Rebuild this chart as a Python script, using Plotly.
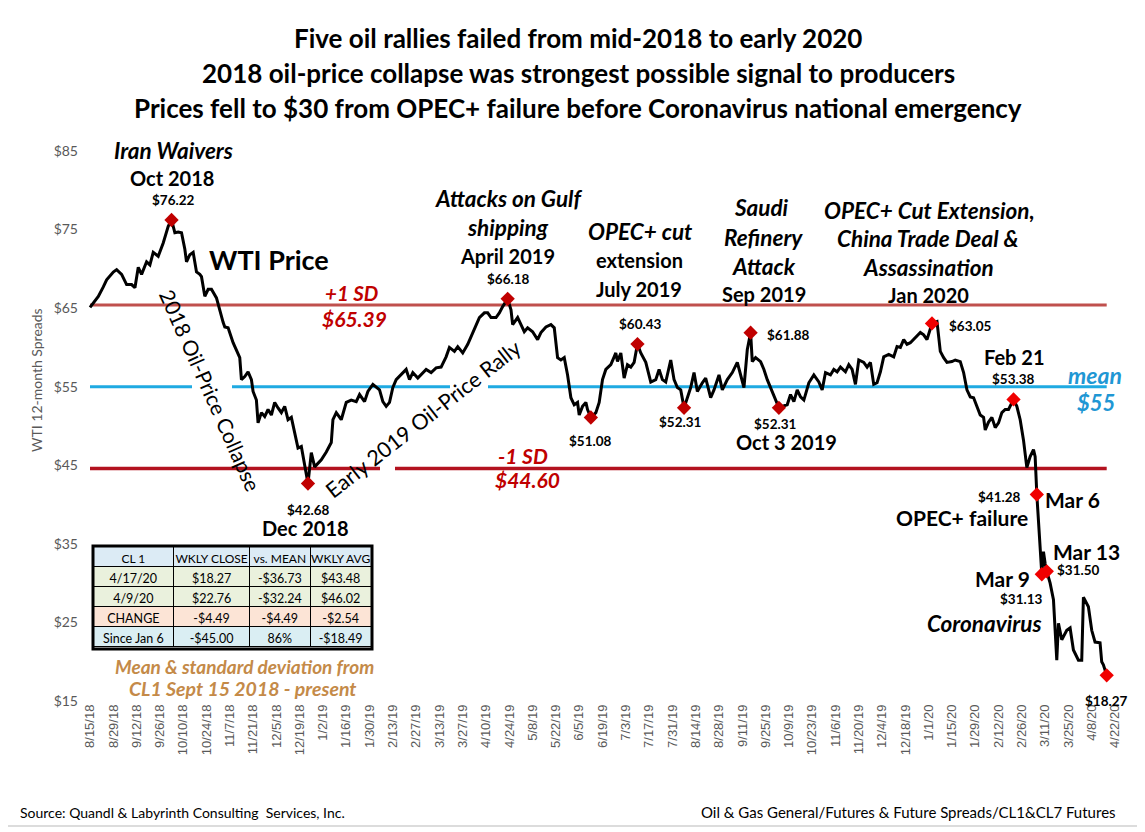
import plotly.graph_objects as go
import pandas as pd

# ---------------- data ----------------
price_dates = [
 "2018-08-15","2018-08-20","2018-08-23","2018-08-25","2018-08-29","2018-08-31","2018-09-03","2018-09-06","2018-09-09","2018-09-11",
 "2018-09-13","2018-09-15","2018-09-18","2018-09-20","2018-09-22","2018-09-25","2018-09-28","2018-10-01","2018-10-03","2018-10-05",
 "2018-10-07","2018-10-09","2018-10-11","2018-10-12","2018-10-14","2018-10-16","2018-10-18","2018-10-20","2018-10-21","2018-10-23",
 "2018-10-25","2018-10-27","2018-10-30","2018-11-01","2018-11-03","2018-11-04","2018-11-06","2018-11-09","2018-11-12","2018-11-13",
 "2018-11-14","2018-11-16","2018-11-18","2018-11-20","2018-11-21","2018-11-23","2018-11-24","2018-11-26","2018-11-28","2018-11-30",
 "2018-12-02","2018-12-04","2018-12-06","2018-12-08","2018-12-10","2018-12-12","2018-12-14","2018-12-16","2018-12-18","2018-12-20",
 "2018-12-22","2018-12-24","2018-12-26","2018-12-28",
 "2019-01-01","2019-01-04","2019-01-07","2019-01-08","2019-01-10","2019-01-13","2019-01-16","2019-01-19","2019-01-22","2019-01-24",
 "2019-01-27","2019-01-29","2019-02-01","2019-02-03","2019-02-05","2019-02-07","2019-02-09","2019-02-11","2019-02-13","2019-02-15",
 "2019-02-18","2019-02-21","2019-02-23","2019-02-25","2019-02-28","2019-03-02","2019-03-05","2019-03-08","2019-03-11","2019-03-14",
 "2019-03-17","2019-03-19","2019-03-22","2019-03-24","2019-03-27","2019-03-30","2019-04-01","2019-04-03","2019-04-06","2019-04-09",
 "2019-04-11","2019-04-13","2019-04-16","2019-04-18","2019-04-20","2019-04-23","2019-04-25","2019-04-26","2019-04-29","2019-05-01",
 "2019-05-03","2019-05-05","2019-05-08","2019-05-11","2019-05-13","2019-05-16","2019-05-19","2019-05-21","2019-05-23","2019-05-25",
 "2019-05-27","2019-05-29","2019-05-31","2019-06-02","2019-06-04","2019-06-05","2019-06-07","2019-06-09","2019-06-10","2019-06-12",
 "2019-06-15","2019-06-17","2019-06-19","2019-06-21","2019-06-24","2019-06-26","2019-06-27","2019-06-28","2019-06-30","2019-07-02",
 "2019-07-04","2019-07-06","2019-07-08","2019-07-10","2019-07-12","2019-07-15","2019-07-18","2019-07-21","2019-07-23","2019-07-25",
 "2019-07-27","2019-07-30","2019-08-01","2019-08-03","2019-08-05","2019-08-07","2019-08-09","2019-08-11","2019-08-13","2019-08-15",
 "2019-08-18","2019-08-20","2019-08-23","2019-08-25","2019-08-28","2019-08-30","2019-09-02","2019-09-05","2019-09-08","2019-09-10",
 "2019-09-12","2019-09-14","2019-09-16","2019-09-17","2019-09-19","2019-09-22","2019-09-24","2019-09-26","2019-09-29","2019-10-03",
 "2019-10-05","2019-10-08","2019-10-10","2019-10-12","2019-10-14","2019-10-16","2019-10-18","2019-10-21","2019-10-24","2019-10-27",
 "2019-10-29","2019-10-31","2019-11-03","2019-11-05","2019-11-07","2019-11-09","2019-11-12","2019-11-14","2019-11-16","2019-11-18",
 "2019-11-20","2019-11-23","2019-11-25","2019-11-27","2019-11-29","2019-12-01","2019-12-03","2019-12-05","2019-12-08","2019-12-11",
 "2019-12-13","2019-12-15","2019-12-17","2019-12-19","2019-12-21","2019-12-24","2019-12-27","2019-12-29","2019-12-31",
 "2020-01-03","2020-01-06","2020-01-07","2020-01-08","2020-01-10","2020-01-12","2020-01-15","2020-01-17","2020-01-20","2020-01-22",
 "2020-01-24","2020-01-26","2020-01-28","2020-01-30","2020-02-01","2020-02-03","2020-02-04","2020-02-06","2020-02-08","2020-02-10",
 "2020-02-12","2020-02-14","2020-02-16","2020-02-18","2020-02-21","2020-02-23","2020-02-25","2020-02-27","2020-02-29","2020-03-02",
 "2020-03-04","2020-03-05","2020-03-06","2020-03-09","2020-03-10","2020-03-11","2020-03-12","2020-03-14","2020-03-16","2020-03-18",
 "2020-03-19","2020-03-21","2020-03-24","2020-03-26","2020-03-28","2020-03-31","2020-04-02","2020-04-03","2020-04-06","2020-04-08",
 "2020-04-10","2020-04-13","2020-04-14","2020-04-15","2020-04-17",
]
price_values = [
 65.1,66.5,67.7,68.6,69.6,69.9,69.3,68.0,68.0,67.6,
 70.2,69.3,70.9,70.5,72.1,71.6,73.3,75.4,76.22,74.6,
 74.7,74.6,72.5,70.9,71.8,72.1,69.6,69.3,69.0,66.5,
 67.4,67.4,66.3,64.6,63.2,62.6,62.5,60.6,59.3,58.7,
 55.9,56.3,56.9,55.9,54.4,53.3,50.4,51.7,51.2,52.1,
 51.4,53.0,52.3,51.7,52.5,50.8,51.1,49.1,47.2,47.4,
 44.8,42.68,46.6,44.8,
 45.7,46.7,47.9,50.8,51.7,50.8,53.0,53.3,53.1,54.0,
 53.1,54.4,55.3,54.9,54.6,53.1,52.5,53.0,54.9,55.9,
 56.5,57.2,55.9,56.8,56.1,56.5,57.2,56.8,57.4,57.5,
 58.8,60.0,59.5,60.1,59.3,60.4,61.4,62.5,63.8,64.4,
 64.4,63.8,63.8,64.4,65.2,66.18,64.8,62.9,63.8,62.9,
 62.0,62.5,62.0,61.0,61.9,62.6,62.9,62.5,58.7,58.4,
 58.7,56.5,53.6,52.7,53.0,51.4,52.5,53.0,52.1,51.08,
 51.7,53.0,55.9,57.2,57.8,58.8,59.3,58.2,59.3,56.1,
 57.8,57.5,58.1,60.43,59.3,58.1,55.6,55.9,57.2,55.9,
 55.6,58.4,55.9,54.9,54.6,52.31,53.7,54.9,56.8,54.4,
 55.5,56.1,53.6,54.6,56.5,54.6,55.9,56.8,58.1,56.3,
 54.9,59.7,61.88,58.2,58.7,58.2,57.2,55.9,54.4,52.31,
 52.5,52.7,54.0,53.1,54.6,53.7,53.3,55.5,56.5,55.6,
 54.6,56.8,56.5,57.2,56.9,57.5,56.9,57.8,57.2,55.3,
 58.4,58.1,57.5,58.1,55.3,55.5,56.9,58.8,59.1,58.8,
 60.1,60.0,61.0,60.4,60.6,61.2,61.9,61.6,61.0,
 63.05,63.3,61.4,59.5,58.7,58.1,58.2,58.4,58.2,56.8,
 54.6,53.7,53.6,52.5,51.4,51.1,49.5,50.5,51.1,49.8,
 50.4,51.7,52.1,52.1,53.38,52.5,50.8,48.2,44.7,46.1,
 47.0,46.1,41.28,31.13,34.0,32.5,31.50,30.0,27.9,20.2,
 24.9,22.8,24.0,24.3,21.5,20.2,20.2,28.2,27.0,24.0,
 22.5,22.4,20.0,19.6,18.27,
]

marker_dates = ["2018-10-03","2018-12-24","2019-04-23","2019-06-12","2019-07-10","2019-08-07","2019-09-16","2019-10-03",
                "2020-01-03","2020-02-21","2020-03-06","2020-03-09","2020-03-12","2020-04-17"]
marker_values = [76.22,42.68,66.18,51.08,60.43,52.31,61.88,52.31,63.05,53.38,41.28,31.13,31.50,18.27]

plus_sd = 65.39
mean_val = 55.0
minus_sd = 44.60
band_dates = ["2018-08-15", "2020-04-17"]

x_tick_labels = ["8/15/18","8/29/18","9/12/18","9/26/18","10/10/18","10/24/18","11/7/18","11/21/18","12/5/18","12/19/18",
 "1/2/19","1/16/19","1/30/19","2/13/19","2/27/19","3/13/19","3/27/19","4/10/19","4/24/19","5/8/19","5/22/19","6/5/19",
 "6/19/19","7/3/19","7/17/19","7/31/19","8/14/19","8/28/19","9/11/19","9/25/19","10/9/19","10/23/19","11/6/19","11/20/19",
 "12/4/19","12/18/19","1/1/20","1/15/20","1/29/20","2/12/20","2/26/20","3/11/20","3/25/20","4/8/20","4/22/20"]
y_tick_values = [15, 25, 35, 45, 55, 65, 75, 85]
y_tick_labels = ["$15","$25","$35","$45","$55","$65","$75","$85"]

tbl_header = ["CL 1", "WKLY CLOSE", "vs. MEAN", "WKLY AVG"]
tbl_label = ["4/17/20", "4/9/20", "CHANGE", "Since Jan 6"]
tbl_close = ["$18.27", "$22.76", "-$4.49", "-$45.00"]
tbl_vs_mean = ["-$36.73", "-$32.24", "-$4.49", "86%"]
tbl_avg = ["$43.48", "$46.02", "-$2.54", "-$18.49"]

# ---------------- layout helpers (page pixel coords) ----------------
PAGE_W, PAGE_H = 1145, 832
OFF = 8                      # default body margin of the html page
L, R, T, B = 85, 1135, 151, 701
def px(x): return (x - L) / (R - L)
def py(y): return (B - y) / (B - T)

FONT = "Lato"
fig = go.Figure()

fig.add_trace(go.Scatter(x=band_dates, y=[plus_sd, plus_sd], mode="lines",
                         line=dict(color="#C0504D", width=3), hoverinfo="skip"))
fig.add_trace(go.Scatter(x=band_dates, y=[mean_val, mean_val], mode="lines",
                         line=dict(color="#1FAAE2", width=3), hoverinfo="skip"))
fig.add_trace(go.Scatter(x=band_dates, y=[minus_sd, minus_sd], mode="lines",
                         line=dict(color="#B3121F", width=3.5), hoverinfo="skip"))
fig.add_trace(go.Scatter(x=price_dates, y=price_values, mode="lines",
                         line=dict(color="black", width=3)))
fig.add_trace(go.Scatter(x=marker_dates[:8], y=marker_values[:8], mode="markers",
                         marker=dict(symbol="diamond", size=11, color="#C00000")))
fig.add_trace(go.Scatter(x=marker_dates[8:], y=marker_values[8:], mode="markers",
                         marker=dict(symbol="diamond", size=11, color="#F00000")))

nb = lambda lst: [s.replace(" ", "\u00a0") for s in lst]
row_fills = ["#EAF1DD", "#EAF1DD", "#FCE4D6", "#DAEEF3"]
fig.add_trace(go.Table(
    domain=dict(x=[px(93), px(372)], y=[py(649), py(546)]),
    columnwidth=[81, 76, 61, 61],
    header=dict(values=nb(tbl_header), fill_color="#DCEBF5", line=dict(color="black", width=1),
                font=dict(family=FONT, size=12, color="black"), align="center", height=20),
    cells=dict(values=[nb(tbl_label), nb(tbl_close), nb(tbl_vs_mean), nb(tbl_avg)],
               fill_color=[row_fills] * 4, line=dict(color="black", width=1),
               font=dict(family=FONT, size=12.5, color="black"), align="center", height=20),
))

ann = []
def lab(text, x, y, size, color="black", angle=0, xanchor="center", family=FONT):
    ann.append(dict(text=text, x=px(x), y=py(y), xref="paper", yref="paper", showarrow=False,
                    font=dict(family=family, size=size, color=color), textangle=angle,
                    xanchor=xanchor, yanchor="middle"))

# title
lab("<b>Five oil rallies failed from mid-2018 to early 2020</b>", 578, 38, 26)
lab("<b>2018 oil-price collapse was strongest possible signal to producers</b>", 578, 73, 26)
lab("<b>Prices fell to $30 from OPEC+ failure before Coronavirus national emergency</b>", 578, 108, 26)

lab("WTI 12-month Spreads", 36, 380, 14, color="#595959", angle=-90)

RED = "#C00000"
BLUE = "#1F97D4"
IT = 22.5
lab("<b><i>Iran Waivers</i></b>", 173, 150, IT)
lab("<b>Oct 2018</b>", 172, 178, 20)
lab("<b>$76.22</b>", 173, 200, 13.5)
lab("<b>WTI Price</b>", 269, 259, 27)
lab("<b><i>+1 SD</i></b>", 351, 293, 20.5, RED)
lab("<b><i>$65.39</i></b>", 354, 318, 21, RED)
lab("<b><i>-1 SD</i></b>", 523, 455, 21, RED)
lab("<b><i>$44.60</i></b>", 527, 479, 21, RED)
lab("<b><i>mean</i></b>", 1095, 375, 23, BLUE)
lab("<b><i>$55</i></b>", 1096, 402, 22, BLUE)
lab("2018 Oil-Price Collapse", 211, 390, 21, angle=66)
lab("Early 2019 Oil-Price Rally", 423, 419, 21.5, angle=-38)
lab("<b>$42.68</b>", 308, 510, 13.5)
lab("<b>Dec 2018</b>", 305, 528, 20)
lab("<b><i>Attacks on Gulf</i></b>", 508, 198, IT)
lab("<b><i>shipping</i></b>", 508, 227, IT)
lab("<b>April 2019</b>", 507, 256, 20)
lab("<b>$66.18</b>", 508, 279, 13.5)
lab("<b><i>OPEC+ cut</i></b>", 640, 232, IT)
lab("<b>extension</b>", 639, 260, 20)
lab("<b>July 2019</b>", 639, 289, 20)
lab("<b>$60.43</b>", 640, 324, 13.5)
lab("<b><i>Saudi</i></b>", 761, 207, IT)
lab("<b><i>Refinery</i></b>", 764, 237, IT)
lab("<b><i>Attack</i></b>", 764, 266, IT)
lab("<b>Sep 2019</b>", 764, 294, 20)
lab("<b>$61.88</b>", 788, 335, 13.5)
lab("<b>$51.08</b>", 590, 441, 13.5)
lab("<b>$52.31</b>", 680, 422, 13.5)
lab("<b>$52.31</b>", 775, 424, 13.5)
lab("<b>Oct 3 2019</b>", 786, 442, 20)
lab("<b><i>OPEC+ Cut Extension,</i></b>", 929, 210, IT)
lab("<b><i>China Trade Deal &</i></b>", 928, 238, IT)
lab("<b><i>Assassination</i></b>", 928, 267, IT)
lab("<b>Jan 2020</b>", 928, 295, 20)
lab("<b>$63.05</b>", 970, 326, 13.5)
lab("<b>Feb 21</b>", 1014, 357, 20)
lab("<b>$53.38</b>", 1013, 379, 13.5)
lab("<b>$41.28</b>", 999, 497, 13.5)
lab("<b>Mar 6</b>", 1072, 499, 21)
lab("<b>OPEC+ failure</b>", 962, 517, 21)
lab("<b>Mar 13</b>", 1086, 551, 21)
lab("<b>$31.50</b>", 1078, 570, 13.5)
lab("<b>Mar 9</b>", 1002, 578, 21)
lab("<b>$31.13</b>", 1021, 599, 13.5)
lab("<b><i>Coronavirus</i></b>", 984, 623, IT)
lab("<b>$18.27</b>", 1106, 701, 13.5)

BROWN = "#C48A48"
lab("<b><i>Mean & standard deviation from</i></b>", 244, 666, 19, BROWN)
lab("<b><i>CL1 Sept 15 2018 - present</i></b>", 242, 688, 19.5, BROWN)

lab("Source: Quandl & Labyrinth Consulting  Services, Inc.", 18, 812, 14, xanchor="left")
lab("Oil & Gas General/Futures & Future Spreads/CL1&CL7 Futures", 1118, 812, 15, xanchor="right")

def white_gap(x0, x1, y0, y1):
    return dict(type="rect", xref="paper", yref="paper", x0=px(x0), x1=px(x1), y0=py(y1), y1=py(y0),
                fillcolor="white", line=dict(width=0), layer="above")

shapes = [
    white_gap(192, 232, 381, 394),
    white_gap(450, 488, 381, 394),
    white_gap(380, 395, 462, 476),
    dict(type="rect", xref="paper", yref="paper", x0=px(93), x1=px(372), y0=py(649), y1=py(546),
         line=dict(color="black", width=3), layer="above"),
    dict(type="line", xref="paper", yref="paper", x0=px(1140), x1=px(1140), y0=py(826), y1=py(OFF),
         line=dict(color="#D0D0D0", width=1.5), layer="above"),
    dict(type="line", xref="paper", yref="paper", x0=px(OFF), x1=px(1140), y0=py(826), y1=py(826),
         line=dict(color="#D0D0D0", width=1.5), layer="above"),
]

x_tick_vals = [pd.to_datetime(s, format="%m/%d/%y").strftime("%Y-%m-%d") for s in x_tick_labels]
x0 = pd.Timestamp("2018-08-15") - pd.Timedelta(days=(90 - L) / 1.664)
x1 = pd.Timestamp("2018-08-15") + pd.Timedelta(days=(R - 90) / 1.664)

fig.update_layout(
    width=PAGE_W - OFF, height=PAGE_H - OFF,
    margin=dict(l=L - OFF, r=PAGE_W - R, t=T - OFF, b=PAGE_H - B, pad=0, autoexpand=False),
    paper_bgcolor="white", plot_bgcolor="white",
    showlegend=False,
    font=dict(family=FONT, color="black"),
    annotations=ann, shapes=shapes,
    xaxis=dict(type="date", range=[x0, x1], tickvals=x_tick_vals, ticktext=x_tick_labels,
               tickangle=-90, showgrid=False, zeroline=False, showline=False, ticks="",
               tickfont=dict(family="Liberation Sans", size=13, color="#595959")),
    yaxis=dict(range=[15, 85], tickvals=y_tick_values, ticktext=y_tick_labels,
               showgrid=False, zeroline=False, showline=False, ticks="", ticklabelstandoff=6,
               tickfont=dict(family=FONT, size=14, color="#595959")),
)

fig.write_html("out.html")
